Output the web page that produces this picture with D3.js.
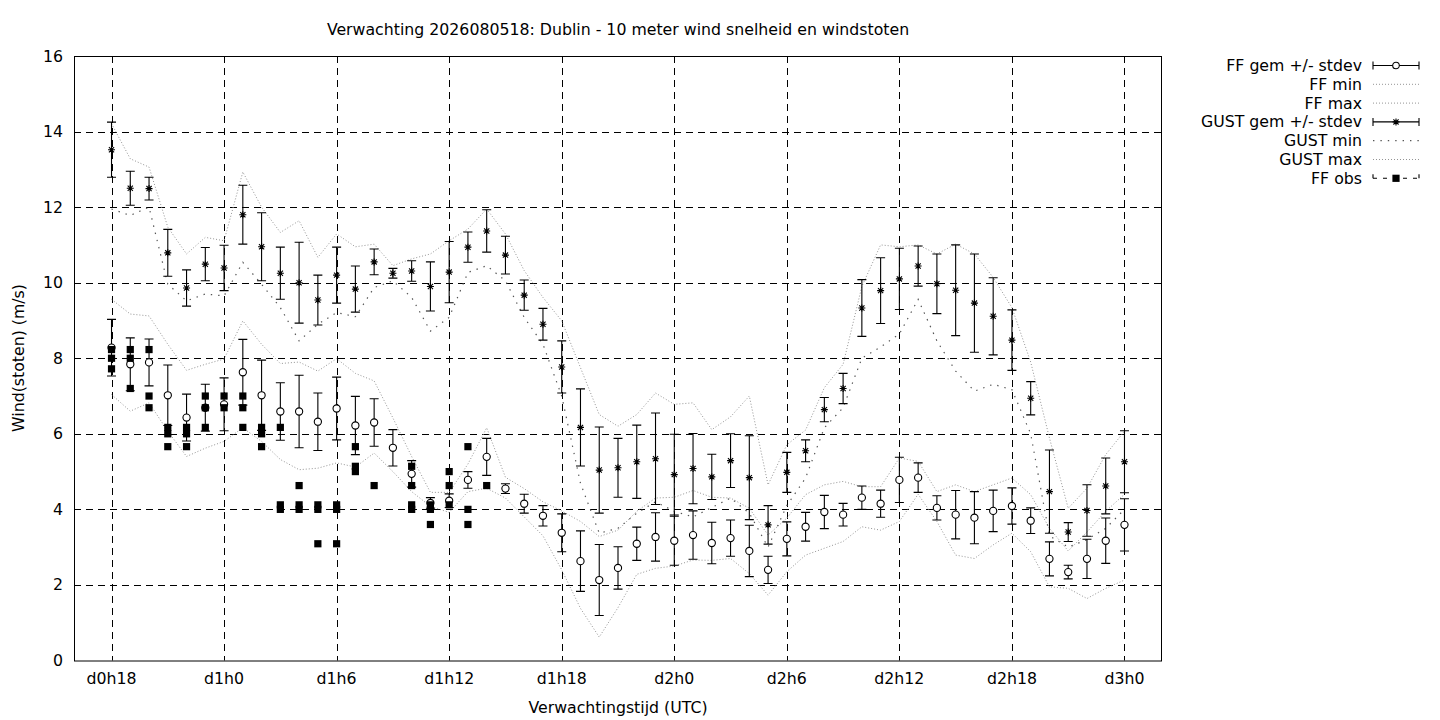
<!DOCTYPE html>
<html>
<head>
<meta charset="utf-8">
<script src="https://cdn.jsdelivr.net/npm/d3@7"></script>
<style>
	body { margin: 0; background: #fff; }
	text { font-family: 'DejaVu Sans', sans-serif; font-size: 15.75px; fill: #000; }
</style>
</head>
<body>
<svg id="chart" width="1440" height="720"></svg>
<script>
// uren vanaf d0h0
var hours = [18, 19, 20, 21, 22, 23, 24, 25, 26, 27, 28, 29, 30, 31, 32, 33, 34, 35, 36, 37,
	38, 39, 40, 41, 42, 43, 44, 45, 46, 47, 48, 49, 50, 51, 52, 53, 54, 55, 56, 57,
	58, 59, 60, 61, 62, 63, 64, 65, 66, 67, 68, 69, 70, 71, 72];

var ff_gem = [8.28, 7.84, 7.89, 7.02, 6.43, 6.69, 6.78, 7.63, 7.02, 6.59,
	6.59, 6.32, 6.67, 6.22, 6.30, 5.63, 4.94, 4.17, 4.23, 4.78,
	5.39, 4.55, 4.15, 3.83, 3.38, 2.63, 2.13, 2.45, 3.09, 3.27,
	3.17, 3.32, 3.11, 3.24, 2.90, 2.40, 3.22, 3.54, 3.93, 3.86,
	4.31, 4.15, 4.78, 4.84, 4.04, 3.86, 3.78, 3.96, 4.09, 3.70,
	2.69, 2.34, 2.69, 3.17, 3.59];
var ff_std = [0.75, 0.70, 0.62, 0.80, 0.62, 0.62, 0.70, 0.87, 0.93, 0.76,
	0.96, 0.76, 0.83, 0.77, 0.63, 0.48, 0.35, 0.14, 0.18, 0.22,
	0.49, 0.13, 0.25, 0.27, 0.50, 0.80, 0.94, 0.56, 0.44, 0.64,
	0.65, 0.64, 0.55, 0.48, 0.68, 0.36, 0.45, 0.38, 0.44, 0.30,
	0.31, 0.36, 0.60, 0.39, 0.32, 0.64, 0.69, 0.55, 0.48, 0.34,
	0.45, 0.18, 0.52, 0.60, 0.69];
var ff_min = [7.04, 6.60, 6.82, 6.07, 5.40, 5.62, 5.80, 6.16, 5.80, 5.32,
	5.05, 5.09, 5.23, 5.12, 5.49, 5.00, 4.47, 4.08, 3.92, 4.47,
	4.56, 4.30, 3.80, 3.30, 2.40, 1.38, 0.62, 1.40, 2.28, 2.44,
	2.50, 2.66, 2.65, 2.70, 2.30, 1.73, 2.35, 2.79, 2.97, 3.15,
	3.54, 3.45, 3.68, 4.40, 3.68, 2.79, 2.70, 3.06, 3.37, 2.88,
	1.95, 1.91, 1.64, 1.91, 2.13];
var ff_max = [9.56, 9.17, 9.12, 8.37, 7.68, 7.84, 7.98, 8.99, 8.37, 7.86,
	7.90, 7.66, 7.99, 7.60, 7.40, 6.42, 5.40, 4.45, 4.45, 5.20,
	6.16, 4.85, 4.55, 4.20, 3.96, 3.68, 3.28, 3.45, 3.95, 4.30,
	4.32, 4.50, 4.32, 4.30, 4.03, 3.32, 3.77, 4.39, 4.65, 4.74,
	4.60, 4.60, 5.36, 5.27, 4.47, 4.65, 4.47, 4.65, 4.83, 4.39,
	3.50, 2.90, 3.40, 3.95, 4.40];

var gust_gem = [13.52, 12.50, 12.49, 10.79, 9.86, 10.49, 10.39, 11.80, 10.95, 10.25,
	10.00, 9.54, 10.20, 9.83, 10.55, 10.25, 10.31, 9.90, 10.28, 10.94,
	11.37, 10.73, 9.67, 8.90, 7.77, 6.17, 5.04, 5.10, 5.26, 5.34,
	4.92, 5.08, 4.86, 5.29, 4.84, 3.59, 4.98, 5.55, 6.64, 7.20,
	9.33, 9.79, 10.10, 10.44, 9.97, 9.80, 9.46, 9.11, 8.48, 6.94,
	4.47, 3.40, 3.97, 4.62, 5.26];
var gust_std = [0.73, 0.45, 0.30, 0.62, 0.48, 0.44, 0.60, 0.78, 0.90, 0.69,
	1.07, 0.66, 0.74, 0.61, 0.34, 0.13, 0.27, 0.65, 0.81, 0.40,
	0.56, 0.50, 0.40, 0.42, 0.69, 1.02, 1.14, 0.78, 0.97, 1.21,
	1.07, 0.93, 0.60, 0.71, 1.11, 0.51, 0.53, 0.29, 0.32, 0.40,
	0.75, 0.87, 0.81, 0.53, 0.79, 1.20, 1.30, 1.02, 0.80, 0.44,
	1.10, 0.25, 0.68, 0.74, 0.82];
var gust_min = [11.95, 11.78, 12.00, 9.96, 9.52, 9.70, 9.65, 10.54, 9.96, 9.34,
	8.46, 8.90, 9.21, 9.10, 9.87, 10.05, 9.61, 8.72, 9.08, 10.27,
	10.45, 10.05, 9.08, 8.37, 7.00, 4.69, 3.37, 3.50, 3.90, 4.20,
	3.95, 3.80, 4.05, 4.30, 3.90, 3.00, 4.10, 4.83, 6.16, 6.69,
	8.00, 8.30, 8.64, 9.56, 8.46, 7.66, 7.13, 7.31, 7.17, 6.00,
	3.30, 3.00, 3.20, 3.50, 4.00];
var gust_max = [14.21, 13.28, 13.06, 11.47, 10.76, 11.20, 11.11, 12.93, 12.00, 11.33,
	11.64, 10.67, 11.29, 10.95, 11.02, 10.45, 10.63, 10.76, 11.11, 11.42,
	11.95, 11.29, 10.32, 9.61, 8.99, 7.75, 6.51, 6.20, 6.51, 7.08,
	6.78, 6.82, 6.11, 6.45, 7.00, 4.65, 5.71, 6.10, 7.22, 7.84,
	9.90, 11.00, 10.95, 11.00, 10.76, 11.02, 10.76, 10.14, 9.34, 7.90,
	5.89, 4.03, 4.56, 5.45, 6.07];

// waarnemingen [uur, m/s]
var ff_obs = [[18, 8.23], [18, 8.0], [18, 7.72], [19, 8.23], [19, 8.0], [19, 7.20],
	[20, 8.23], [20, 7.0], [20, 6.69], [21, 6.17], [21, 6.0], [21, 5.66],
	[22, 6.17], [22, 6.0], [22, 5.66], [23, 7.0], [23, 6.69], [23, 6.17],
	[24, 7.0], [24, 6.69], [25, 7.0], [25, 6.69], [25, 6.17],
	[26, 6.17], [26, 6.0], [26, 5.66], [27, 6.17], [27, 4.12], [27, 4.0],
	[28, 4.63], [28, 4.12], [28, 4.0], [29, 4.12], [29, 4.0], [29, 3.09],
	[30, 4.12], [30, 4.0], [30, 3.09], [31, 5.66], [31, 5.14], [31, 5.0],
	[32, 4.63], [34, 5.14], [34, 4.63], [34, 4.12], [34, 4.0],
	[35, 4.12], [35, 4.0], [35, 3.60], [36, 5.0], [36, 4.63], [36, 4.12],
	[37, 5.66], [37, 4.0], [37, 3.60], [38, 4.63]];

var tick_hours = [18, 24, 30, 36, 42, 48, 54, 60, 66, 72];
var tick_labels = ['d0h18', 'd1h0', 'd1h6', 'd1h12', 'd1h18', 'd2h0', 'd2h6', 'd2h12', 'd2h18', 'd3h0'];
var y_ticks = [0, 2, 4, 6, 8, 10, 12, 14, 16];

var legend_labels = ['FF gem +/- stdev', 'FF min', 'FF max', 'GUST gem +/- stdev', 'GUST min', 'GUST max', 'FF obs'];

var width = 1088, height = 604.5;
var margin = {top: 56, left: 74};

var svg = d3.select('#chart');
var chart = svg.append('g')
	.attr('transform', 'translate(' + margin.left + ',' + margin.top + ')');

var x_conv = d3.scaleLinear().domain([16, 74]).range([0, width]);
var y_conv = d3.scaleLinear().domain([0, 16]).range([height, 0]);

var light_dot = {color: '#949494', dash: '1,2', w: 1};
var gust_min_dot = {color: '#555', dash: '1.4,6', w: 1.2};

// griglia
y_ticks.slice(1, -1).forEach(function(v) {
	chart.append('line')
		.attr('x1', 0).attr('x2', width)
		.attr('y1', Math.round(y_conv(v)) + 0.5).attr('y2', Math.round(y_conv(v)) + 0.5)
		.attr('stroke', '#000').attr('stroke-dasharray', '7,5');
});
tick_hours.forEach(function(h) {
	chart.append('line')
		.attr('x1', Math.round(x_conv(h)) + 0.5).attr('x2', Math.round(x_conv(h)) + 0.5)
		.attr('y1', 0).attr('y2', height)
		.attr('stroke', '#000').attr('stroke-dasharray', '7,5');
});

// assi
chart.selectAll('text.ytick')
	.data(y_ticks).enter()
	.append('text')
	.attr('class', 'ytick')
	.attr('x', -11)
	.attr('y', function(d) { return y_conv(d); })
	.attr('text-anchor', 'end')
	.attr('dominant-baseline', 'central')
	.text(function(d) { return d; });

chart.selectAll('text.xtick')
	.data(tick_hours).enter()
	.append('text')
	.attr('class', 'xtick')
	.attr('x', function(d) { return x_conv(d); })
	.attr('y', height + 18)
	.attr('text-anchor', 'middle')
	.attr('dominant-baseline', 'central')
	.text(function(d, i) { return tick_labels[i]; });

// min/max lijnen
function curve(vals) {
	return d3.line()
		.x(function(d, i) { return x_conv(hours[i]); })
		.y(function(d) { return y_conv(d); })(vals);
}
[[ff_min, light_dot], [ff_max, light_dot], [gust_min, gust_min_dot], [gust_max, light_dot]].forEach(function(s) {
	chart.append('path')
		.attr('d', curve(s[0]))
		.attr('fill', 'none')
		.attr('stroke', s[1].color)
		.attr('stroke-width', s[1].w)
		.attr('stroke-dasharray', s[1].dash);
});

// foutbalken
function errorbars(gem, std, cls) {
	var g = chart.append('g').attr('class', cls);
	hours.forEach(function(h, i) {
		var xp = x_conv(h), lo = y_conv(gem[i] - std[i]), hi = y_conv(gem[i] + std[i]);
		g.append('path')
			.attr('d', 'M' + xp + ',' + lo + 'V' + hi +
				'M' + (xp - 4.5) + ',' + lo + 'H' + (xp + 4.5) +
				'M' + (xp - 4.5) + ',' + hi + 'H' + (xp + 4.5))
			.attr('stroke', '#000').attr('stroke-width', 1.1).attr('fill', 'none');
	});
}
errorbars(ff_gem, ff_std, 'ff');
errorbars(gust_gem, gust_std, 'gust');

var star = 'M-3.5,0H3.5M0,-3.5V3.5M-2.6,-2.6L2.6,2.6M-2.6,2.6L2.6,-2.6';

chart.selectAll('path.gust')
	.data(gust_gem).enter()
	.append('path')
	.attr('class', 'gust')
	.attr('transform', function(d, i) { return 'translate(' + x_conv(hours[i]) + ',' + y_conv(d) + ')'; })
	.attr('d', star)
	.attr('stroke', '#000').attr('stroke-width', 1.1);

chart.selectAll('circle.ff')
	.data(ff_gem).enter()
	.append('circle')
	.attr('class', 'ff')
	.attr('cx', function(d, i) { return x_conv(hours[i]); })
	.attr('cy', function(d) { return y_conv(d); })
	.attr('r', 3.6)
	.attr('fill', '#fff').attr('stroke', '#000').attr('stroke-width', 1.1);

chart.selectAll('rect.obs')
	.data(ff_obs).enter()
	.append('rect')
	.attr('class', 'obs')
	.attr('x', function(d) { return x_conv(d[0]) - 3.6; })
	.attr('y', function(d) { return y_conv(d[1]) - 3.6; })
	.attr('width', 7.2).attr('height', 7.2)
	.attr('fill', '#000');

// rand
chart.append('rect')
	.attr('x', 0.5).attr('y', 0.5)
	.attr('width', width - 1).attr('height', height)
	.attr('fill', 'none').attr('stroke', '#000').attr('stroke-width', 1);

// titels
svg.append('text')
	.attr('x', margin.left + width / 2).attr('y', 29)
	.attr('text-anchor', 'middle').attr('dominant-baseline', 'central')
	.text('Verwachting 2026080518: Dublin - 10 meter wind snelheid en windstoten');
svg.append('text')
	.attr('x', margin.left + width / 2).attr('y', 707)
	.attr('text-anchor', 'middle').attr('dominant-baseline', 'central')
	.text('Verwachtingstijd (UTC)');
svg.append('text')
	.attr('transform', 'translate(18,358) rotate(-90)')
	.attr('text-anchor', 'middle').attr('dominant-baseline', 'central')
	.text('Wind(stoten) (m/s)');

// legenda
var leg = svg.append('g').attr('transform', 'translate(1362,65.5)');
legend_labels.forEach(function(lbl, i) {
	var yy = i * 18.8;
	leg.append('text')
		.attr('x', 0).attr('y', yy)
		.attr('text-anchor', 'end').attr('dominant-baseline', 'central')
		.text(lbl);
	var x0 = 11, x1 = 57, xm = 34;
	if (i == 0 || i == 3) {
		leg.append('path')
			.attr('d', 'M' + x0 + ',' + yy + 'H' + x1 + 'M' + x0 + ',' + (yy - 4) + 'V' + (yy + 4) + 'M' + x1 + ',' + (yy - 4) + 'V' + (yy + 4))
			.attr('stroke', '#000').attr('stroke-width', 1.1);
		if (i == 0) {
			leg.append('circle').attr('cx', xm).attr('cy', yy).attr('r', 3.3)
				.attr('fill', '#fff').attr('stroke', '#000').attr('stroke-width', 1.1);
		} else {
			leg.append('path').attr('transform', 'translate(' + xm + ',' + yy + ')')
				.attr('d', star).attr('stroke', '#000').attr('stroke-width', 1.1);
		}
	} else if (i == 6) {
		leg.append('path')
			.attr('d', 'M' + x0 + ',' + yy + 'H' + x1)
			.attr('stroke', '#000').attr('stroke-width', 1.1).attr('stroke-dasharray', '4,6');
		leg.append('path')
			.attr('d', 'M' + x0 + ',' + (yy - 4) + 'V' + yy + 'M' + x1 + ',' + (yy - 4) + 'V' + yy)
			.attr('stroke', '#000').attr('stroke-width', 1.1);
		leg.append('rect').attr('x', xm - 3.6).attr('y', yy - 3.6)
			.attr('width', 7.2).attr('height', 7.2).attr('fill', '#000');
	} else {
		var st = (i == 4) ? gust_min_dot : light_dot;
		leg.append('path')
			.attr('d', 'M' + x0 + ',' + yy + 'H' + x1)
			.attr('stroke', st.color).attr('stroke-width', st.w)
			.attr('stroke-dasharray', st.dash);
	}
});
</script>
</body>
</html>
